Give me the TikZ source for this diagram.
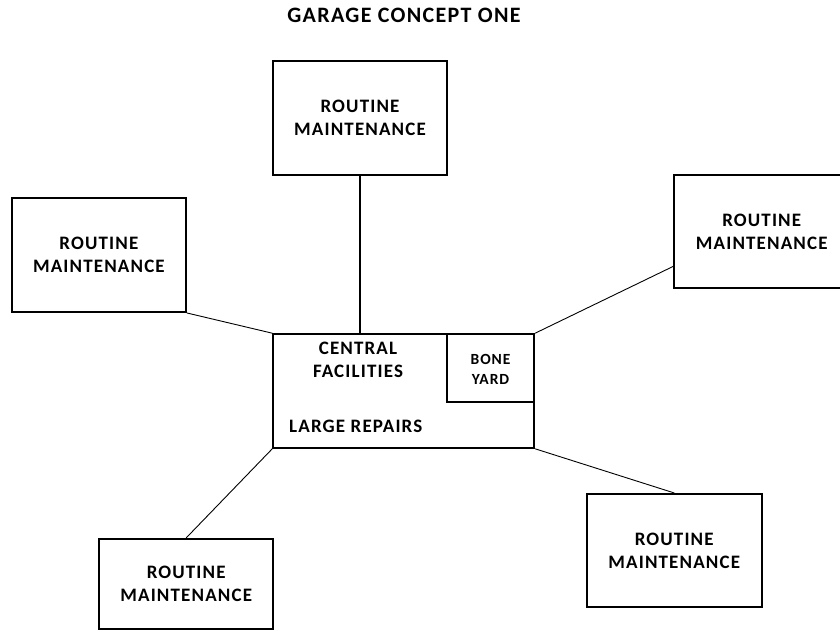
\documentclass[tikz,border=0pt]{standalone}
\usepackage{fontspec}
\setmainfont{Carlito}[LetterSpace=6]
\begin{document}
\begin{tikzpicture}[x=1pt,y=-1pt,
  box/.style={draw, line width=2.2pt, inner sep=0pt, align=center, font=\fontsize{19}{23}\selectfont\bfseries},
  thin/.style={line width=0.9pt},
  thick/.style={line width=2.2pt}]
\useasboundingbox (0,0) rectangle (840,631);
\node[font=\fontsize{22}{26}\selectfont\bfseries] (title) at (404,15) {GARAGE CONCEPT ONE};
\node[box, minimum width=174.6pt, minimum height=114pt] (top) at (360,118) {ROUTINE\\MAINTENANCE};
\node[box, minimum width=173.7pt, minimum height=113.7pt] (left) at (98.9,255) {ROUTINE\\MAINTENANCE};
\node[box, minimum width=175.4pt, minimum height=113.3pt] (right) at (761.7,231.7) {ROUTINE\\MAINTENANCE};
\node[box, minimum width=260.7pt, minimum height=113.4pt] (central) at (403.7,391) {};
\node[box, minimum width=87.3pt, minimum height=68pt, anchor=north east] (bone) at (central.north east) {};
\node[font=\fontsize{15.5}{20}\selectfont\bfseries, align=center] (bonetext) at (490.5,369) {BONE\\YARD};
\node[font=\fontsize{19}{23}\selectfont\bfseries, align=center] (cf) at (358,359.5) {CENTRAL\\FACILITIES};
\node[font=\fontsize{19}{23}\selectfont\bfseries, anchor=west, inner sep=0pt] (lr) at (289,426.7) {LARGE REPAIRS};
\node[box, minimum width=174.3pt, minimum height=90pt] (bl) at (186.2,584) {ROUTINE\\MAINTENANCE};
\node[box, minimum width=175pt, minimum height=113.3pt] (br) at (674.2,550.7) {ROUTINE\\MAINTENANCE};
\coordinate (rin) at (674,266);
\draw[thick] (top.south) -- (top.south |- central.north);
\draw[thin] (left.south east) -- (central.north west);
\draw[thin] (central.north east) -- (rin);
\draw[thin] (central.south west) -- (bl.north);
\draw[thin] (central.south east) -- (br.north);
\end{tikzpicture}
\end{document}
